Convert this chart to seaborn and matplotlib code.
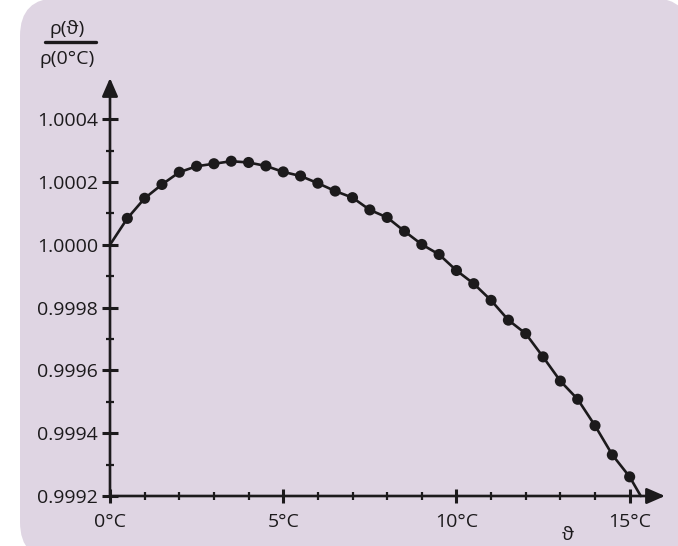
import matplotlib
matplotlib.use("Agg")
import matplotlib.pyplot as plt
import numpy as np
import pandas as pd
import seaborn as sns
from matplotlib.patches import FancyBboxPatch
from matplotlib.lines import Line2D

# 측정값 (0.5°C 간격)
temps = [0.5, 1.0, 1.5, 2.0, 2.5, 3.0, 3.5, 4.0, 4.5, 5.0,
         5.5, 6.0, 6.5, 7.0, 7.5, 8.0, 8.5, 9.0, 9.5, 10.0,
         10.5, 11.0, 11.5, 12.0, 12.5, 13.0, 13.5, 14.0, 14.5, 15.0]
density = [1.000084, 1.000148, 1.000192, 1.000231, 1.000250, 1.000258,
           1.000266, 1.000262, 1.000251, 1.000232, 1.000219, 1.000196,
           1.000171, 1.000150, 1.000111, 1.000087, 1.000043, 1.000001,
           0.999969, 0.999918, 0.999876, 0.999823, 0.999760, 0.999717,
           0.999643, 0.999566, 0.999508, 0.999424, 0.999331, 0.999261]

# 곡선: 0°C 시작점과 축 교차점 포함
curve_t = [0.0] + temps + [15.32]
curve_rho = [1.0] + density + [0.9992]

x_ticks = [0, 5, 10, 15]
x_labels = ["0°C", "5°C", "10°C", "15°C"]
x_minor = [1, 2, 3, 4, 6, 7, 8, 9, 11, 12, 13, 14]
y_ticks = [0.9992, 0.9994, 0.9996, 0.9998, 1.0000, 1.0002, 1.0004]
y_labels = ["0.9992", "0.9994", "0.9996", "0.9998", "1.0000", "1.0002", "1.0004"]
y_minor = [0.9993, 0.9995, 0.9997, 0.9999, 1.0001, 1.0003]

sns.set_style("white")
plt.rcParams["font.family"] = ["Open Sans", "DejaVu Sans"]

W, H = 678, 546
ink = "#1c1a1c"
fig = plt.figure(figsize=(W / 100, H / 100), dpi=100)

# 배경 (둥근 사각형)
bg = fig.add_axes([0, 0, 1, 1])
bg.set_xlim(0, W)
bg.set_ylim(H, 0)
bg.axis("off")
bg.add_patch(FancyBboxPatch((20, -2), 670, 562,
                            boxstyle="round,pad=0,rounding_size=38",
                            fc="#dfd5e3", ec="none"))

ax = fig.add_axes([110 / W, 50 / H, 555 / W, 418 / H])
ax.patch.set_alpha(0)
for s in ax.spines.values():
    s.set_visible(False)

df = pd.DataFrame({"t": temps, "rho": density})
cf = pd.DataFrame({"t": curve_t, "rho": curve_rho})
sns.lineplot(data=cf, x="t", y="rho", ax=ax, color=ink, lw=1.9,
             sort=False, clip_on=False, zorder=3)
sns.scatterplot(data=df, x="t", y="rho", ax=ax, color=ink, s=64,
                edgecolor="none", zorder=4, clip_on=False)

ax.set_xlim(0, 16.02)
ax.set_ylim(0.9992, 1.000531)

arrow = dict(arrowstyle="-|>,head_length=0.55,head_width=0.24",
             mutation_scale=20, lw=1.9, color=ink, shrinkA=0, shrinkB=0)
ax.annotate("", xy=(16.02, 0.9992), xytext=(0, 0.9992),
            arrowprops=arrow, annotation_clip=False, zorder=2)
ax.annotate("", xy=(0, 1.000531), xytext=(0, 0.9992),
            arrowprops=arrow, annotation_clip=False, zorder=2)

ax.set_xticks(x_ticks)
ax.set_xticklabels(x_labels)
ax.set_xticks(x_minor, minor=True)
ax.set_yticks(y_ticks)
ax.set_yticklabels(y_labels)
ax.set_yticks(y_minor, minor=True)
ax.tick_params(axis="both", which="both", direction="inout", color=ink,
               labelcolor=ink, labelsize=14, bottom=True, left=True)
ax.tick_params(axis="x", which="major", length=10, width=2.2, pad=7)
ax.tick_params(axis="x", which="minor", length=6, width=1.6)
ax.tick_params(axis="y", which="major", length=11, width=2.2, pad=3)
ax.tick_params(axis="y", which="minor", length=6, width=1.6)
ax.set_xlabel("")
ax.set_ylabel("")

# y축 제목 (분수)
fig.text(67 / W, 1 - 29 / H, "ρ(ϑ)", ha="center", va="center",
         fontsize=14, color=ink)
fig.add_artist(Line2D([45 / W, 96 / W], [1 - 42 / H, 1 - 42 / H],
                      transform=fig.transFigure, color=ink, lw=2.4))
fig.text(67 / W, 1 - 59 / H, "ρ(0°C)", ha="center", va="center",
         fontsize=14, color=ink)
# x축 제목
fig.text(568 / W, 1 - 535 / H, "ϑ", ha="center", va="center",
         fontsize=14, color=ink)

fig.savefig("out.png", dpi=100)
